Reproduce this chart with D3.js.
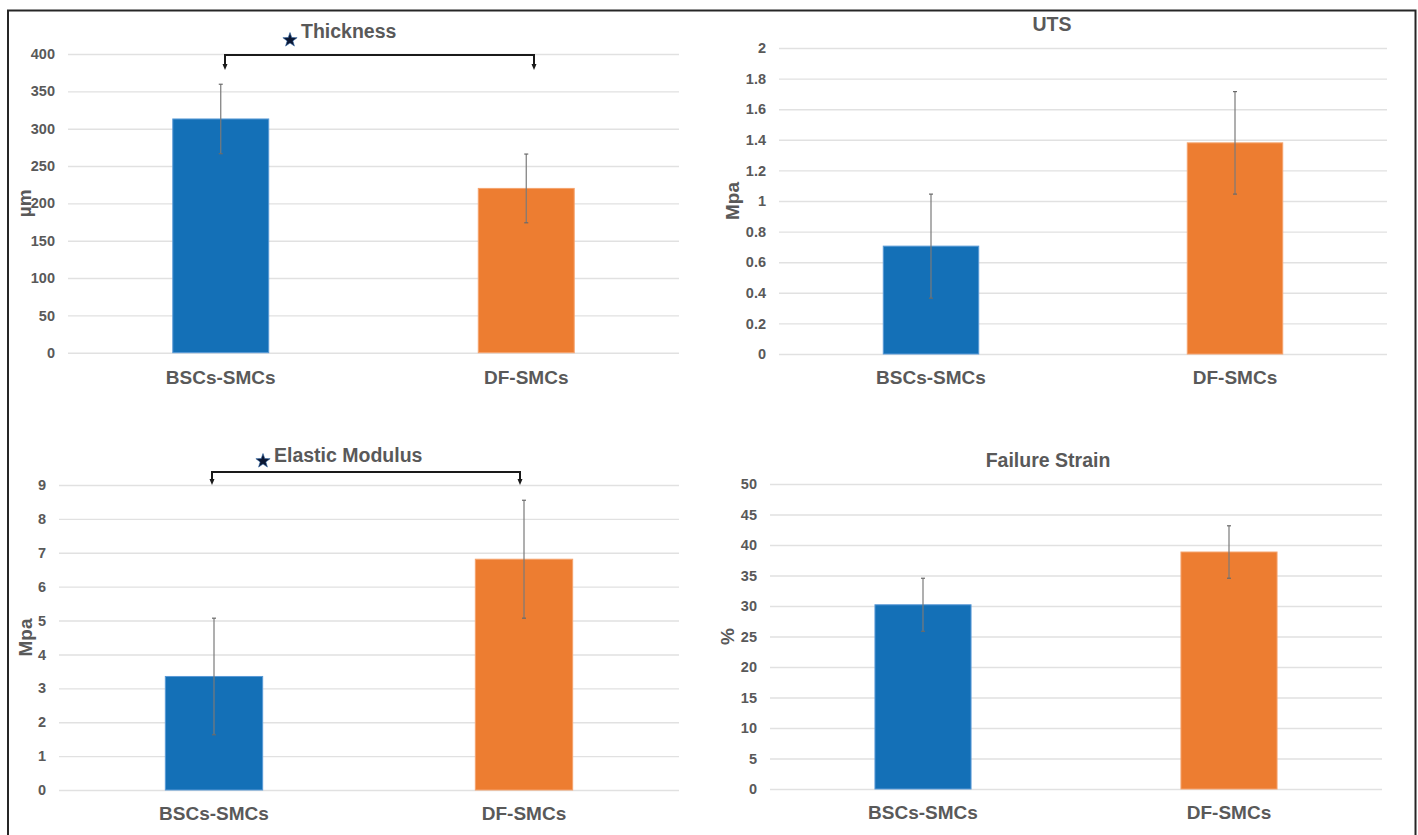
<!DOCTYPE html>
<html>
<head>
<meta charset="utf-8">
<script src="https://cdn.jsdelivr.net/npm/d3@7"></script>
<style>
  html, body { margin: 0; padding: 0; background: #ffffff; }
  svg { display: block; }
  text { font-family: "Liberation Sans", Arial, sans-serif; font-weight: bold; fill: #595959; }
</style>
</head>
<body>
<svg id="chart" width="1418" height="835"></svg>
<script>
// ---- data ----
const categories = ["BSCs-SMCs", "DF-SMCs"];

const thicknessMean = [313, 220];
const thicknessSD   = [46.5, 46];
const thicknessTicks = [0, 50, 100, 150, 200, 250, 300, 350, 400];

const utsMean = [0.705, 1.38];
const utsSD   = [0.34, 0.335];
const utsTicks = [0, 0.2, 0.4, 0.6, 0.8, 1, 1.2, 1.4, 1.6, 1.8, 2];

const modulusMean = [3.35, 6.81];
const modulusSD   = [1.72, 1.74];
const modulusTicks = [0, 1, 2, 3, 4, 5, 6, 7, 8, 9];

const strainMean = [30.2, 38.85];
const strainSD   = [4.35, 4.3];
const strainTicks = [0, 5, 10, 15, 20, 25, 30, 35, 40, 45, 50];

const panelTitles = ["Thickness", "UTS", "Elastic Modulus", "Failure Strain"];
const axisTitles  = ["µm", "Mpa", "Mpa", "%"];
const barColors = ["#1470b7", "#ed7d31"];
const barEdges  = ["#5a9ad6", "#f5a36e"];

// ---- layout ----
const panels = [
  { mean: thicknessMean, sd: thicknessSD, ticks: thicknessTicks, title: panelTitles[0], ytitle: axisTitles[0],
    x0: 68, x1: 679, yZero: 352.7, yTop: 54, catY: 384, yTitleX: 24,
    titleX: 301, titleY: 38, titleAnchor: "start", bracket: { y: 55, tip: 70, x: [225, 534] }, star: [290, 40] },
  { mean: utsMean, sd: utsSD, ticks: utsTicks, title: panelTitles[1], ytitle: axisTitles[1],
    x0: 779, x1: 1387, yZero: 354, yTop: 48, catY: 384, yTitleX: 732,
    titleX: 1052, titleY: 31, titleAnchor: "middle" },
  { mean: modulusMean, sd: modulusSD, ticks: modulusTicks, title: panelTitles[2], ytitle: axisTitles[2],
    x0: 59, x1: 679, yZero: 790, yTop: 485, catY: 820, yTitleX: 25,
    titleX: 274, titleY: 462, titleAnchor: "start", bracket: { y: 472, tip: 485, x: [212, 520] }, star: [263, 461] },
  { mean: strainMean, sd: strainSD, ticks: strainTicks, title: panelTitles[3], ytitle: axisTitles[3],
    x0: 770, x1: 1382, yZero: 789, yTop: 484, catY: 819, yTitleX: 727,
    titleX: 1048, titleY: 467, titleAnchor: "middle" }
];

const svg = d3.select("#chart");

// outer frame
svg.append("rect")
  .attr("x", 8).attr("y", 10.5).attr("width", 1407.5).attr("height", 840)
  .attr("fill", "none").attr("stroke", "#262626").attr("stroke-width", 2);

function starPath(cx, cy, R, r) {
  const pts = [];
  for (let i = 0; i < 10; i++) {
    const a = -Math.PI / 2 + i * Math.PI / 5;
    const rad = i % 2 === 0 ? R : r;
    pts.push([cx + rad * Math.cos(a), cy + rad * Math.sin(a)]);
  }
  return "M" + pts.map(p => p.join(",")).join("L") + "Z";
}

const fmt = v => String(v);

panels.forEach(p => {
  const g = svg.append("g");
  const max = p.ticks[p.ticks.length - 1];
  const y = d3.scaleLinear().domain([0, max]).range([p.yZero, p.yTop]);
  const x = d3.scaleBand().domain(categories).range([p.x0, p.x1])
    .paddingInner(0.686).paddingOuter(0.343);

  // y axis with gridlines
  const yAxis = d3.axisLeft(y).tickValues(p.ticks).tickFormat(fmt)
    .tickSize(-(p.x1 - p.x0)).tickPadding(13);
  const ya = g.append("g").attr("transform", `translate(${p.x0},0)`).call(yAxis);
  ya.select(".domain").remove();
  ya.selectAll(".tick line").attr("stroke", "#e1e1e1").attr("stroke-width", 1.4);
  ya.selectAll(".tick text").attr("font-size", 14.5).attr("fill", "#595959")
    .style("font-family", "'Liberation Sans', Arial, sans-serif").style("font-weight", "bold");

  // bars
  g.selectAll("rect.bar").data(categories).enter().append("rect")
    .attr("class", "bar")
    .attr("x", d => x(d))
    .attr("width", x.bandwidth())
    .attr("y", (d, i) => y(p.mean[i]))
    .attr("height", (d, i) => y(0) - y(p.mean[i]))
    .attr("fill", (d, i) => barColors[i])
    .attr("stroke", (d, i) => barEdges[i])
    .attr("stroke-width", 1);

  // error bars
  categories.forEach((c, i) => {
    const cx = x(c) + x.bandwidth() / 2;
    const hi = y(p.mean[i] + p.sd[i]);
    const lo = y(p.mean[i] - p.sd[i]);
    g.append("line").attr("x1", cx).attr("x2", cx).attr("y1", hi).attr("y2", lo)
      .attr("stroke", "#7a7a7a").attr("stroke-width", 1.2);
    [hi, lo].forEach(v => {
      g.append("line").attr("x1", cx - 2).attr("x2", cx + 2).attr("y1", v).attr("y2", v)
        .attr("stroke", "#6a6a6a").attr("stroke-width", 1.2);
    });
  });

  // category labels
  const xAxis = d3.axisBottom(x).tickSize(0).tickPadding(0);
  const xa = g.append("g").attr("transform", `translate(0,${p.catY})`).call(xAxis);
  xa.select(".domain").remove();
  xa.selectAll(".tick text").attr("y", 0).attr("dy", 0)
    .attr("font-size", 19).attr("fill", "#595959")
    .style("font-family", "'Liberation Sans', Arial, sans-serif").style("font-weight", "bold");

  // y title
  const ymid = (p.yZero + p.yTop) / 2;
  g.append("text")
    .attr("transform", `translate(${p.yTitleX},${ymid}) rotate(-90)`)
    .attr("text-anchor", "middle").attr("dy", "0.35em")
    .attr("font-size", 19)
    .text(p.ytitle);

  // title
  g.append("text").attr("x", p.titleX).attr("y", p.titleY)
    .attr("text-anchor", p.titleAnchor).attr("font-size", 19.5)
    .text(p.title);

  // significance bracket
  if (p.bracket) {
    const b = p.bracket;
    g.append("path")
      .attr("d", `M${b.x[0]},${b.tip - 6}V${b.y}H${b.x[1]}V${b.tip - 6}`)
      .attr("fill", "none").attr("stroke", "#1a1a1a").attr("stroke-width", 2);
    b.x.forEach(bx => {
      g.append("path")
        .attr("d", `M${bx - 2.5},${b.tip - 6}L${bx + 2.5},${b.tip - 6}L${bx},${b.tip}Z`)
        .attr("fill", "#1a1a1a");
    });
    g.append("path").attr("d", starPath(p.star[0], p.star[1], 7.5, 3))
      .attr("fill", "#0b1733").attr("stroke", "#2a5fa0").attr("stroke-width", 0.6);
  }
});
</script>
</body>
</html>
